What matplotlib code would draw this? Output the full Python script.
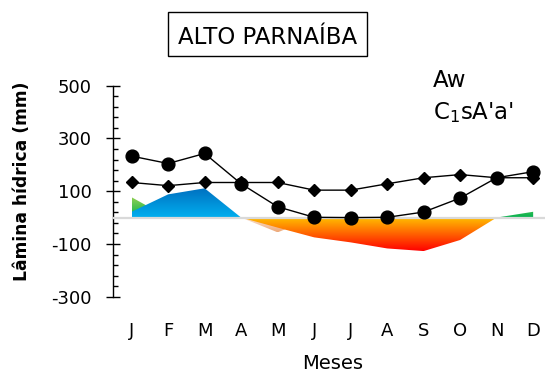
import numpy as np
import matplotlib
matplotlib.use("Agg")
import matplotlib.pyplot as plt
from matplotlib.colors import LinearSegmentedColormap
from matplotlib.patches import Rectangle
from matplotlib.ticker import FixedLocator

# ---- data ----
months = ['J', 'F', 'M', 'A', 'M', 'J', 'J', 'A', 'S', 'O', 'N', 'D']
precip = [233, 205, 243, 128, 41, 1, 0, 1, 21, 74, 151, 174]      # circles
etp = [133, 121, 133, 133, 133, 104, 104, 128, 151, 163, 151, 151]  # diamonds
excedente = [22, 88, 111, 0, 0, 0, 0, 0, 0, 0, 0, 0]                # blue
reposicao = [77, 0, 0, 0, 0, 0, 0, 0, 0, 0, 0, 22]                  # green
retirada = [0, 0, 0, 0, -56, 0, 0, 0, 0, 0, 0, 0]                   # peach
deficiencia = [0, 0, 0, 0, -38, -75, -94, -117, -127, -85, 0, 0]    # orange/red
yticks = [500, 300, 100, -100, -300]

title = 'ALTO PARNAÍBA'
clim1 = 'Aw'
clim2 = r"C$_1$sA'a'"

W, H = 545, 378
plt.rcParams['font.family'] = ['DejaVu Sans']
plt.rcParams['axes.unicode_minus'] = False
fig = plt.figure(figsize=(W / 100, H / 100), dpi=100)

ax_left = 113.4 / W
ax_bottom = (H - 296.7) / H
ax_w = 438.0 / W
ax_h = 211.0 / H
ax = fig.add_axes([ax_left, ax_bottom, ax_w, ax_h])

x = np.arange(len(months))


def grad_fill(ax, xv, yv, c_zero, c_far, z):
    yv = np.asarray(yv, dtype=float)
    poly = ax.fill_between(xv, 0, yv, facecolor='none', edgecolor='none', zorder=z)
    lo, hi = min(0, yv.min()), max(0, yv.max())
    if hi > 0:
        cols = [c_zero, c_far]
    else:
        cols = [c_far, c_zero]
    cmap = LinearSegmentedColormap.from_list('g', cols)
    grad = np.linspace(0, 1, 256).reshape(-1, 1)
    im = ax.imshow(grad, extent=[xv[0], xv[-1], lo, hi], origin='lower',
                   cmap=cmap, aspect='auto', zorder=z, interpolation='bilinear')
    im.set_clip_path(poly.get_paths()[0], transform=ax.transData)


grad_fill(ax, x, reposicao, '#00B050', '#92D050', 1)
grad_fill(ax, x, excedente, '#00B0F0', '#0070C0', 2)
grad_fill(ax, x, retirada, '#FBE5D6', '#EDA878', 1)
grad_fill(ax, x, deficiencia, '#FFC000', '#FF0000', 2)

ax.axhline(0, color='#D9D9D9', lw=1.6, zorder=3)

ax.plot(x, etp, color='black', lw=1.0, marker='D', markersize=6.0, zorder=4)
ax.plot(x, precip, color='black', lw=1.0, marker='o', markersize=9.2, zorder=5)

ax.set_xlim(-0.5, 11.5)
ax.set_ylim(-300, 500)

for s in ['top', 'right', 'bottom']:
    ax.spines[s].set_visible(False)
ax.spines['left'].set_linewidth(1.0)

ax.set_yticks(yticks)
ax.yaxis.set_minor_locator(FixedLocator(np.arange(-300, 501, 40)))
ax.tick_params(axis='y', which='major', direction='inout', length=10.5, width=1.0,
               pad=10.5, labelsize=13)
ax.tick_params(axis='y', which='minor', direction='in', length=3.5, width=1.0)
ax.set_xticks(x)
ax.set_xticklabels(months)
ax.tick_params(axis='x', length=0, pad=18, labelsize=13)
ax.set_xlabel('Meses', fontsize=14, labelpad=10)

fig.text(22 / W, 1 - 181.7 / H, 'Lâmina hídrica (mm)', rotation=90, ha='center',
         va='center', fontsize=12.3, fontweight='bold')

fig.patches.append(Rectangle((167.7 / W, 1 - 55.7 / H), 199 / W, 43.4 / H,
                             transform=fig.transFigure, fill=False,
                             edgecolor='black', lw=1.0))
fig.text(267.5 / W, 1 - 44 / H, title, ha='center', va='baseline', fontsize=16.5)
fig.text(433 / W, 1 - 87.3 / H, clim1, ha='left', va='baseline', fontsize=16.5)
fig.text(433 / W, 1 - 119.3 / H, clim2, ha='left', va='baseline', fontsize=16.5)

fig.savefig('out.png', dpi=100)
